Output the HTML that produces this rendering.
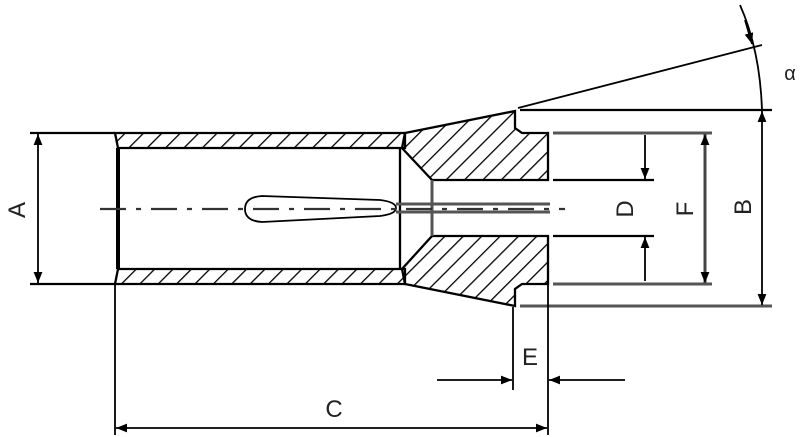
<!DOCTYPE html>
<html><head><style>body{margin:0;background:#fff}svg{display:block}</style></head><body>
<svg width="800" height="437" viewBox="0 0 800 437" xmlns="http://www.w3.org/2000/svg" font-family="Liberation Sans, sans-serif">
<defs>
<pattern id="h" width="13" height="13" patternUnits="userSpaceOnUse" patternTransform="rotate(45)">
<line x1="0" y1="0" x2="0" y2="13" stroke="#000" stroke-width="2.6"/></pattern>
<marker id="ar" viewBox="0 0 10 10" refX="10" refY="5" markerWidth="11" markerHeight="11" orient="auto-start-reverse" markerUnits="userSpaceOnUse"><path d="M0,1 L10,5 L0,9 z" fill="#000"/></marker>
</defs>
<g stroke="#000" fill="none" stroke-width="2.3">
<path d="M115,133 H405 V148 H118 Z" fill="url(#h)"/>
<path d="M115,284 H405 V269 H118 Z" fill="url(#h)"/>
<path d="M405,133 L515,111 V128 L522,133 H548 V180 H432 L402,148 Z" fill="url(#h)"/>
<path d="M405,284 L515,306 V289 L522,284 H548 V236 H432 L402,269 Z" fill="url(#h)"/>
<line x1="432" y1="180" x2="432" y2="236" stroke="#555" stroke-width="3"/>
<line x1="118" y1="148" x2="118" y2="269" stroke-width="4"/>
<line x1="400" y1="148" x2="400" y2="269"/>
<path d="M262,196 Q245,197 245,209 Q245,221 262,222 L380,216 Q396,214 396,208 Q396,202 380,200 Z" stroke-width="1.8"/>
<line x1="396" y1="204" x2="550" y2="204" stroke="#555" stroke-width="3"/>
<line x1="396" y1="212" x2="550" y2="212" stroke="#555" stroke-width="3"/>
<line x1="100" y1="209" x2="565" y2="209" stroke="#333" stroke-width="2.3" stroke-dasharray="26,10,5,10"/>
<line x1="30" y1="133" x2="115" y2="133"/><line x1="30" y1="284" x2="115" y2="284"/>
<line x1="38" y1="134" x2="38" y2="283" marker-start="url(#ar)" marker-end="url(#ar)" stroke-width="1.8"/>
<line x1="553" y1="180" x2="654" y2="180"/><line x1="553" y1="236" x2="654" y2="236"/>
<line x1="553" y1="133" x2="712" y2="133" stroke="#555" stroke-width="3"/><line x1="553" y1="284" x2="712" y2="284" stroke="#555" stroke-width="3"/>
<line x1="520" y1="110" x2="772" y2="110"/><line x1="520" y1="306" x2="772" y2="306" stroke="#555" stroke-width="3"/>
<line x1="645" y1="135" x2="645" y2="179" marker-end="url(#ar)" stroke-width="1.8"/>
<line x1="645" y1="281" x2="645" y2="237" marker-end="url(#ar)" stroke-width="1.8"/>
<line x1="705" y1="134" x2="705" y2="283" marker-start="url(#ar)" marker-end="url(#ar)" stroke="#444" stroke-width="3"/>
<line x1="762" y1="111" x2="762" y2="305" marker-start="url(#ar)" marker-end="url(#ar)" stroke-width="1.8"/>
<line x1="518" y1="108" x2="762" y2="45" stroke-width="1.8"/>
<path d="M740,5 Q760,50 762,110" stroke-width="1.8"/>
<line x1="745" y1="20" x2="752" y2="44" marker-end="url(#ar)" stroke-width="1.8"/>
<line x1="115" y1="284" x2="115" y2="435" stroke-width="1.8"/>
<line x1="548" y1="284" x2="548" y2="435" stroke-width="1.8"/>
<line x1="116" y1="428" x2="547" y2="428" marker-start="url(#ar)" marker-end="url(#ar)" stroke-width="1.8"/>
<line x1="513" y1="307" x2="513" y2="390" stroke-width="1.8"/>
<line x1="437" y1="380" x2="512" y2="380" marker-end="url(#ar)" stroke-width="1.8"/>
<line x1="625" y1="380" x2="549" y2="380" marker-end="url(#ar)" stroke-width="1.8"/>
</g>
<g font-size="24" fill="#222">
<text transform="translate(25,210) rotate(-90)" text-anchor="middle">A</text>
<text transform="translate(633,209) rotate(-90)" text-anchor="middle">D</text>
<text transform="translate(693,209) rotate(-90)" text-anchor="middle">F</text>
<text transform="translate(751,207) rotate(-90)" text-anchor="middle">B</text>
<text x="334" y="417" text-anchor="middle">C</text>
<text x="530" y="365" text-anchor="middle">E</text>
<text x="790" y="80" text-anchor="middle" font-size="20">α</text>
</g>
</svg>
</body></html>
